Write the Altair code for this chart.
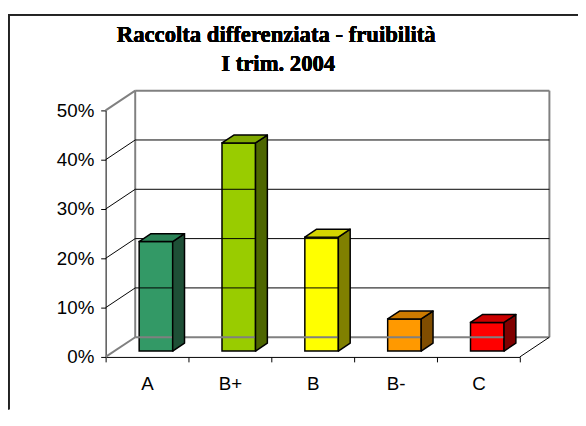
import altair as alt
import pandas as pd

# ---------------- data ----------------
categories = ["A", "B+", "B", "B-", "C"]
values = [22.2, 42.2, 23.1, 6.5, 5.8]          # percent
front_colors = ["#339966", "#99CC00", "#FFFF00", "#FF9900", "#FF0000"]
top_colors = ["#2B8357", "#7FA800", "#D4D400", "#CC7A00", "#CC0000"]
side_colors = ["#1E4F36", "#4D6600", "#808000", "#804D00", "#800000"]
y_ticks = [0, 10, 20, 30, 40, 50]
title_lines = ["Raccolta differenziata - fruibilità", "I trim. 2004"]

# ---------------- layout (pixels, view coordinates) ----------------
W, H = 578, 404
AX_LEFT, AX_RIGHT = 99, 519
AX_BOTTOM, AX_TOP = 351, 101
N = len(categories)
STEP = (AX_RIGHT - AX_LEFT) / N
PX_PCT = (AX_BOTTOM - AX_TOP) / 50
DX, DY = 30, 20            # depth of the 3D box
BAR_W = 34
BAR_DX, BAR_DY = 9, 6      # bar front face offset into depth
BD_X, BD_Y = 12, 8         # bar depth

du, dp = DX / STEP, DY / PX_PCT
bdx, bdy = BD_X / STEP, BD_Y / PX_PCT
y0 = BAR_DY / PX_PCT

x_lin = alt.Scale(domain=[-0.5, N - 0.5], range=[AX_LEFT, AX_RIGHT], nice=False, zero=False)
y_scale = alt.Scale(domain=[0, 50], range=[AX_BOTTOM, AX_TOP], nice=False, zero=False)

y_axis = alt.Axis(
    values=y_ticks, labelExpr="datum.value + '%'", title=None, grid=False,
    offset=-AX_LEFT, orient="left", domainColor="black", tickColor="black",
    tickSize=5, labelPadding=7, labelFont="Liberation Sans", labelFontSize=19,
    labelColor="black",
)
x_axis = alt.Axis(
    title=None, orient="bottom", offset=AX_BOTTOM - H, tickBand="extent",
    domainColor="black", tickColor="black", tickSize=5, labelPadding=13,
    labelFont="Liberation Sans", labelFontSize=19, labelColor="black", labelAngle=0,
)

# ---------------- tables ----------------
bars = pd.DataFrame({"cat": categories, "value": values, "front": front_colors})

side_rows, top_rows = [], []
for i, (v, sc, tc) in enumerate(zip(values, side_colors, top_colors)):
    xl = i + (BAR_DX - BAR_W / 2) / STEP
    xr = i + (BAR_DX + BAR_W / 2) / STEP
    side_rows += [
        {"cat": categories[i], "x": xr, "y": y0, "y2": v + y0, "c": sc},
        {"cat": categories[i], "x": xr + bdx, "y": y0 + bdy, "y2": v + y0 + bdy, "c": sc},
    ]
    top_rows += [
        {"cat": categories[i], "y": v + y0, "x": xl, "x2": xr, "c": tc},
        {"cat": categories[i], "y": v + y0 + bdy, "x": xl + bdx, "x2": xr + bdx, "c": tc},
    ]
side = pd.DataFrame(side_rows)
top = pd.DataFrame(top_rows)

lo, hi = -0.5, N - 0.5
gray_lines, black_lines = [], []
for t in y_ticks:
    diag = {"x": lo, "y": t, "x2": lo + du, "y2": t + dp}
    back = {"x": lo + du, "y": t + dp, "x2": hi + du, "y2": t + dp}
    (gray_lines if t in (y_ticks[0], y_ticks[-1]) else black_lines).extend([diag, back])
gray_lines += [
    {"x": lo + du, "y": dp, "x2": lo + du, "y2": y_ticks[-1] + dp},
    {"x": hi + du, "y": dp, "x2": hi + du, "y2": y_ticks[-1] + dp},
]
black_lines += [{"x": hi, "y": 0, "x2": hi + du, "y2": dp}]
gray_df = pd.DataFrame(gray_lines)
black_df = pd.DataFrame(black_lines)


def rule_layer(df, color, width):
    return alt.Chart(df).mark_rule(color=color, strokeWidth=width).encode(
        x=alt.X("x:Q", scale=x_lin, axis=None),
        x2="x2:Q",
        y=alt.Y("y:Q", scale=y_scale, axis=y_axis),
        y2="y2:Q",
    )


walls_black = rule_layer(black_df, "black", 1)
walls_gray = rule_layer(gray_df, "#808080", 2)

front = alt.Chart(bars).mark_bar(
    width=BAR_W, xOffset=BAR_DX, yOffset=-BAR_DY, stroke="black", strokeWidth=1.5
).encode(
    x=alt.X("cat:N", sort=categories,
            scale=alt.Scale(range=[AX_LEFT, AX_RIGHT], paddingInner=0, paddingOuter=0),
            axis=x_axis),
    y=alt.Y("value:Q", scale=y_scale, axis=y_axis),
    color=alt.Color("front:N", scale=None),
)

side_faces = alt.Chart(side).mark_area(stroke="black", strokeWidth=1.5, strokeJoin="round").encode(
    x=alt.X("x:Q", scale=x_lin, axis=None),
    y=alt.Y("y:Q", scale=y_scale, axis=y_axis),
    y2="y2:Q",
    detail="cat:N",
    color=alt.Color("c:N", scale=None),
)

top_faces = alt.Chart(top).mark_area(orient="horizontal", stroke="black", strokeWidth=1.5,
                                     strokeJoin="round").encode(
    y=alt.Y("y:Q", scale=y_scale, axis=y_axis),
    x=alt.X("x:Q", scale=x_lin, axis=None),
    x2="x2:Q",
    detail="cat:N",
    color=alt.Color("c:N", scale=None),
)

frame_left = alt.Chart(bars).mark_rule(color="#222222", strokeWidth=1.5).encode(
    x=alt.value(0.75), y=alt.value(4), y2=alt.value(H))
frame_top = alt.Chart(bars).mark_rule(color="#222222", strokeWidth=1.5).encode(
    x=alt.value(0), x2=alt.value(W), y=alt.value(4))

title1 = alt.Chart(bars).mark_text(
    font="Liberation Serif", fontSize=23, fontWeight="bold", align="center",
    baseline="middle", color="black"
).encode(x=alt.value(272), y=alt.value(25), text=alt.value(title_lines[0]))
title2 = alt.Chart(bars).mark_text(
    font="Liberation Serif", fontSize=23, fontWeight="bold", align="center",
    baseline="middle", color="black"
).encode(x=alt.value(274), y=alt.value(54), text=alt.value(title_lines[1]))

chart = alt.layer(
    front, walls_gray, walls_black, side_faces, top_faces,
    frame_left, frame_top, title1, title2
).resolve_scale(x="independent").properties(
    width=W, height=H, padding=0, autosize=alt.AutoSizeParams(type="none"),
    background="white",
).configure_view(stroke=None)

chart.save("out.html", embed_options={"renderer": "svg", "actions": False})
